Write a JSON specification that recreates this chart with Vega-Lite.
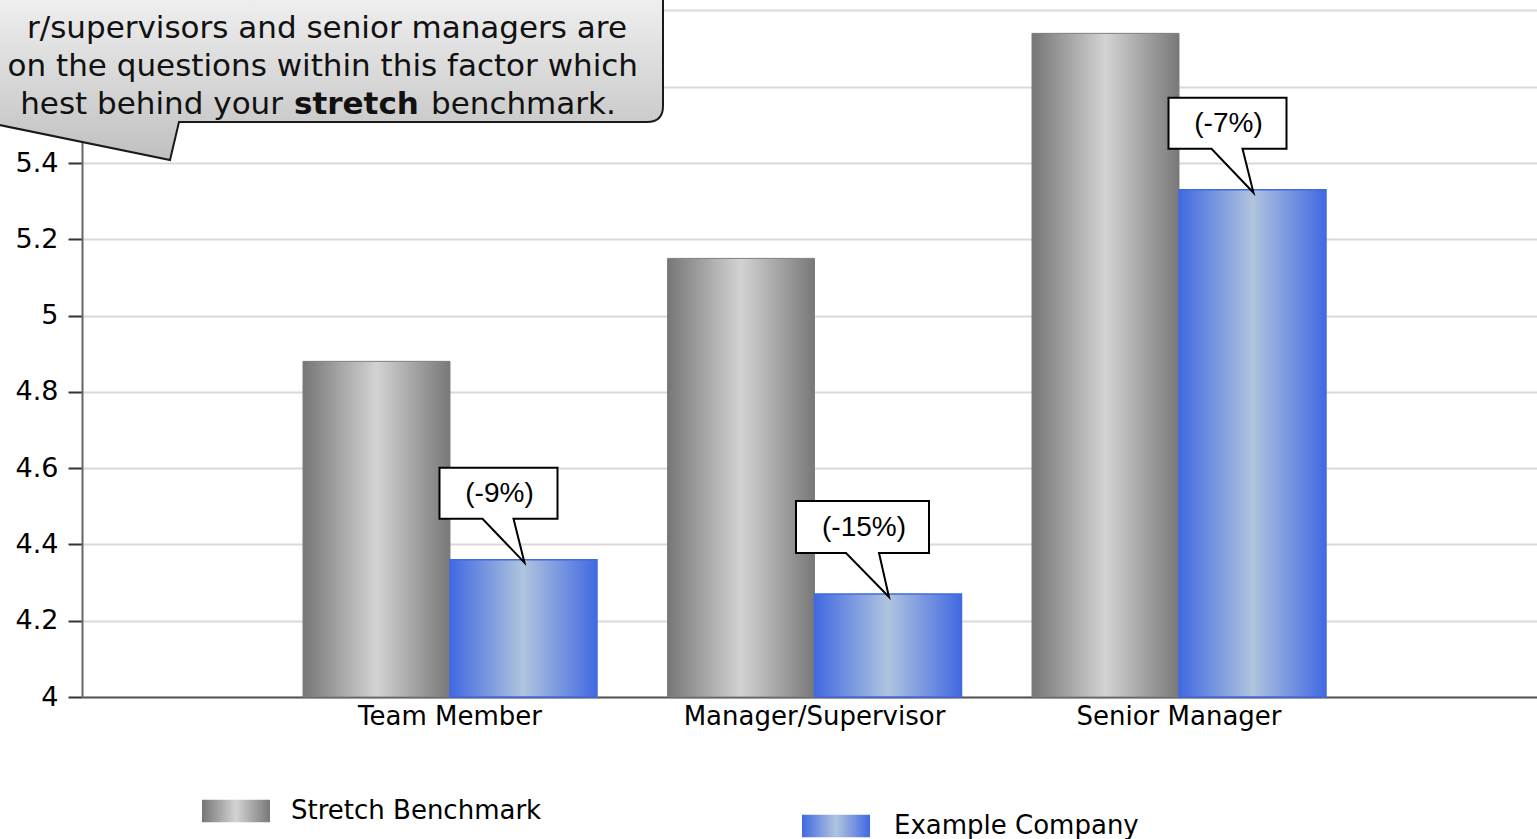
{
  "$schema": "https://vega.github.io/schema/vega-lite/v6.json",
  "width": 1465,
  "height": 697,
  "autosize": {"type": "none"},
  "padding": {"left": 82, "top": 0, "right": -10, "bottom": 142},
  "background": "white",
  "data": {
    "values": [
      {"group": "Team Member", "series": "Stretch Benchmark", "value": 4.88},
      {"group": "Team Member", "series": "Example Company", "value": 4.36, "label": "(-9%)"},
      {"group": "Manager/Supervisor", "series": "Stretch Benchmark", "value": 5.15},
      {"group": "Manager/Supervisor", "series": "Example Company", "value": 4.27, "label": "(-15%)"},
      {"group": "Senior Manager", "series": "Stretch Benchmark", "value": 5.74},
      {"group": "Senior Manager", "series": "Example Company", "value": 5.33, "label": "(-7%)"}
    ]
  },
  "config": {
    "view": {"stroke": null},
    "font": "DejaVu Sans",
    "legend": {
      "title": null,
      "padding": 0,
      "labelFont": "DejaVu Sans",
      "labelFontSize": 26,
      "labelColor": "#000000",
      "labelLimit": 0,
      "symbolType": "M-1.5,-0.5H1.5V0.5H-1.5Z",
      "symbolSize": 2055,
      "symbolStrokeWidth": 0
    }
  },
  "layer": [
    {
      "transform": [{"filter": "datum.series === 'Stretch Benchmark'"}],
      "mark": {
        "type": "bar", "stroke": "#7f7f7f", "strokeWidth": 1,
        "fill": {"gradient": "linear", "x1": 0, "y1": 0, "x2": 1, "y2": 0, "stops": [{"offset": 0, "color": "#767676"}, {"offset": 0.5, "color": "#d3d3d3"}, {"offset": 1, "color": "#787878"}]}
      },
      "encoding": {
        "x": {
          "field": "group", "type": "nominal", "sort": null, "title": null,
          "scale": {"domain": ["Team Member", "Manager/Supervisor", "Senior Manager"], "paddingInner": 0.1934, "paddingOuter": 0.6063},
          "axis": {"title": null, "ticks": false, "labelAngle": 0, "labelLimit": 0, "labelFont": "DejaVu Sans", "labelFontSize": 26, "labelPadding": 6, "labelColor": "#000000", "domainColor": "#555555", "domainWidth": 2, "grid": false}
        },
        "xOffset": {"field": "series", "type": "nominal", "scale": {"domain": ["Stretch Benchmark", "Example Company"], "paddingInner": 0, "paddingOuter": 0}},
        "y": {
          "field": "value", "type": "quantitative", "title": null,
          "scale": {"domain": [4, 5.8275], "nice": false, "zero": false},
          "axis": {"title": null, "values": [4, 4.2, 4.4, 4.6, 4.8, 5, 5.2, 5.4, 5.6, 5.8], "format": "~g", "labelExpr": "datum.value > 5.5 ? '' : datum.label", "grid": true, "gridColor": "#d9d9d9", "gridWidth": 2, "domainColor": "#666666", "domainWidth": 2, "tickColor": "#333333", "tickWidth": 2, "tickSize": 14, "labelFont": "DejaVu Sans", "labelFontSize": 27, "labelPadding": 10, "labelColor": "#000000"}
        },
        "y2": {"datum": 4},
        "opacity": {
          "field": "series", "type": "nominal",
          "scale": {"domain": ["Stretch Benchmark"], "range": [1]},
          "legend": {"orient": "none", "legendX": 131, "legendY": 788, "labelOffset": 32}
        }
      }
    },
    {
      "transform": [{"filter": "datum.series === 'Example Company'"}],
      "mark": {
        "type": "bar", "stroke": "#4169e1", "strokeWidth": 1.5,
        "fill": {"gradient": "linear", "x1": 0, "y1": 0, "x2": 1, "y2": 0, "stops": [{"offset": 0, "color": "#4169e1"}, {"offset": 0.5, "color": "#b0c4de"}, {"offset": 1, "color": "#4169e1"}]}
      },
      "encoding": {
        "x": {"field": "group", "type": "nominal", "sort": null, "title": null},
        "xOffset": {"field": "series", "type": "nominal"},
        "y": {"field": "value", "type": "quantitative", "title": null},
        "y2": {"datum": 4},
        "opacity": {
          "field": "series", "type": "nominal",
          "scale": {"domain": ["Example Company"], "range": [1]},
          "legend": {"orient": "none", "legendX": 731, "legendY": 803, "labelOffset": 35}
        }
      }
    },
    {
      "transform": [{"filter": "datum.series === 'Example Company'"}],
      "mark": {"type": "point", "filled": true, "fill": "white", "stroke": "black", "strokeWidth": 2, "size": 4, "opacity": 1},
      "encoding": {
        "x": {"field": "group", "type": "nominal", "sort": null, "title": null},
        "xOffset": {"field": "series", "type": "nominal"},
        "y": {"field": "value", "type": "quantitative", "title": null},
        "shape": {
          "field": "label", "type": "nominal", "legend": null,
          "scale": {"domain": ["(-9%)", "(-15%)", "(-7%)"], "range": ["M-84,-92H34V-41H-10L1,3L-41,-41H-84Z", "M-92,-93H41V-41H-9L1,3L-42,-41H-92Z", "M-84,-92H34V-41H-10L1,3L-41,-41H-84Z"]}
        }
      }
    },
    {
      "transform": [{"filter": "datum.series === 'Example Company'"}],
      "mark": {"type": "text", "font": "Liberation Sans", "fontSize": 28, "color": "#000000", "dx": -24, "dy": -66, "baseline": "middle", "align": "center"},
      "encoding": {
        "x": {"field": "group", "type": "nominal", "sort": null, "title": null},
        "xOffset": {"field": "series", "type": "nominal"},
        "y": {"field": "value", "type": "quantitative", "title": null},
        "text": {"field": "label", "type": "nominal"}
      }
    },
    {
      "data": {"values": [{"note": "callout"}]},
      "mark": {
        "type": "point", "filled": true, "size": 4, "opacity": 1, "stroke": "#1a1a1a", "strokeWidth": 2,
        "shape": "M-500,-220H197Q213,-220,213,-204V-57Q213,-41,197,-41H-271L-280,-3L-465,-41H-500Z",
        "fill": {"gradient": "linear", "x1": 0, "y1": 0, "x2": 0, "y2": 1, "stops": [{"offset": 0, "color": "#ffffff"}, {"offset": 1, "color": "#c0c0c0"}]}
      },
      "encoding": {
        "x": {"datum": "Team Member", "type": "nominal"},
        "y": {"datum": 5.4, "type": "quantitative"}
      }
    },
    {
      "data": {"values": [{"note": "callout"}]},
      "mark": {"type": "text", "text": "r/supervisors and senior managers are", "font": "DejaVu Sans", "fontSize": 31, "color": "#111111", "align": "right", "baseline": "alphabetic", "dx": 177, "dy": -125},
      "encoding": {
        "x": {"datum": "Team Member", "type": "nominal"},
        "y": {"datum": 5.4, "type": "quantitative"}
      }
    },
    {
      "data": {"values": [{"note": "callout"}]},
      "mark": {"type": "text", "text": "on the questions within this factor which", "font": "DejaVu Sans", "fontSize": 31, "color": "#111111", "align": "right", "baseline": "alphabetic", "dx": 188, "dy": -87},
      "encoding": {
        "x": {"datum": "Team Member", "type": "nominal"},
        "y": {"datum": 5.4, "type": "quantitative"}
      }
    },
    {
      "data": {"values": [{"note": "callout"}]},
      "mark": {"type": "text", "text": "hest behind  your", "font": "DejaVu Sans", "fontSize": 31, "color": "#111111", "align": "right", "baseline": "alphabetic", "dx": -167, "dy": -49},
      "encoding": {
        "x": {"datum": "Team Member", "type": "nominal"},
        "y": {"datum": 5.4, "type": "quantitative"}
      }
    },
    {
      "data": {"values": [{"note": "callout"}]},
      "mark": {"type": "text", "text": "stretch", "font": "DejaVu Sans", "fontWeight": "bold", "fontSize": 31, "color": "#111111", "align": "left", "baseline": "alphabetic", "dx": -156, "dy": -49},
      "encoding": {
        "x": {"datum": "Team Member", "type": "nominal"},
        "y": {"datum": 5.4, "type": "quantitative"}
      }
    },
    {
      "data": {"values": [{"note": "callout"}]},
      "mark": {"type": "text", "text": "benchmark.", "font": "DejaVu Sans", "fontSize": 31, "color": "#111111", "align": "left", "baseline": "alphabetic", "dx": -19, "dy": -49},
      "encoding": {
        "x": {"datum": "Team Member", "type": "nominal"},
        "y": {"datum": 5.4, "type": "quantitative"}
      }
    }
  ],
  "resolve": {"scale": {"opacity": "independent"}, "legend": {"opacity": "independent"}}
}
